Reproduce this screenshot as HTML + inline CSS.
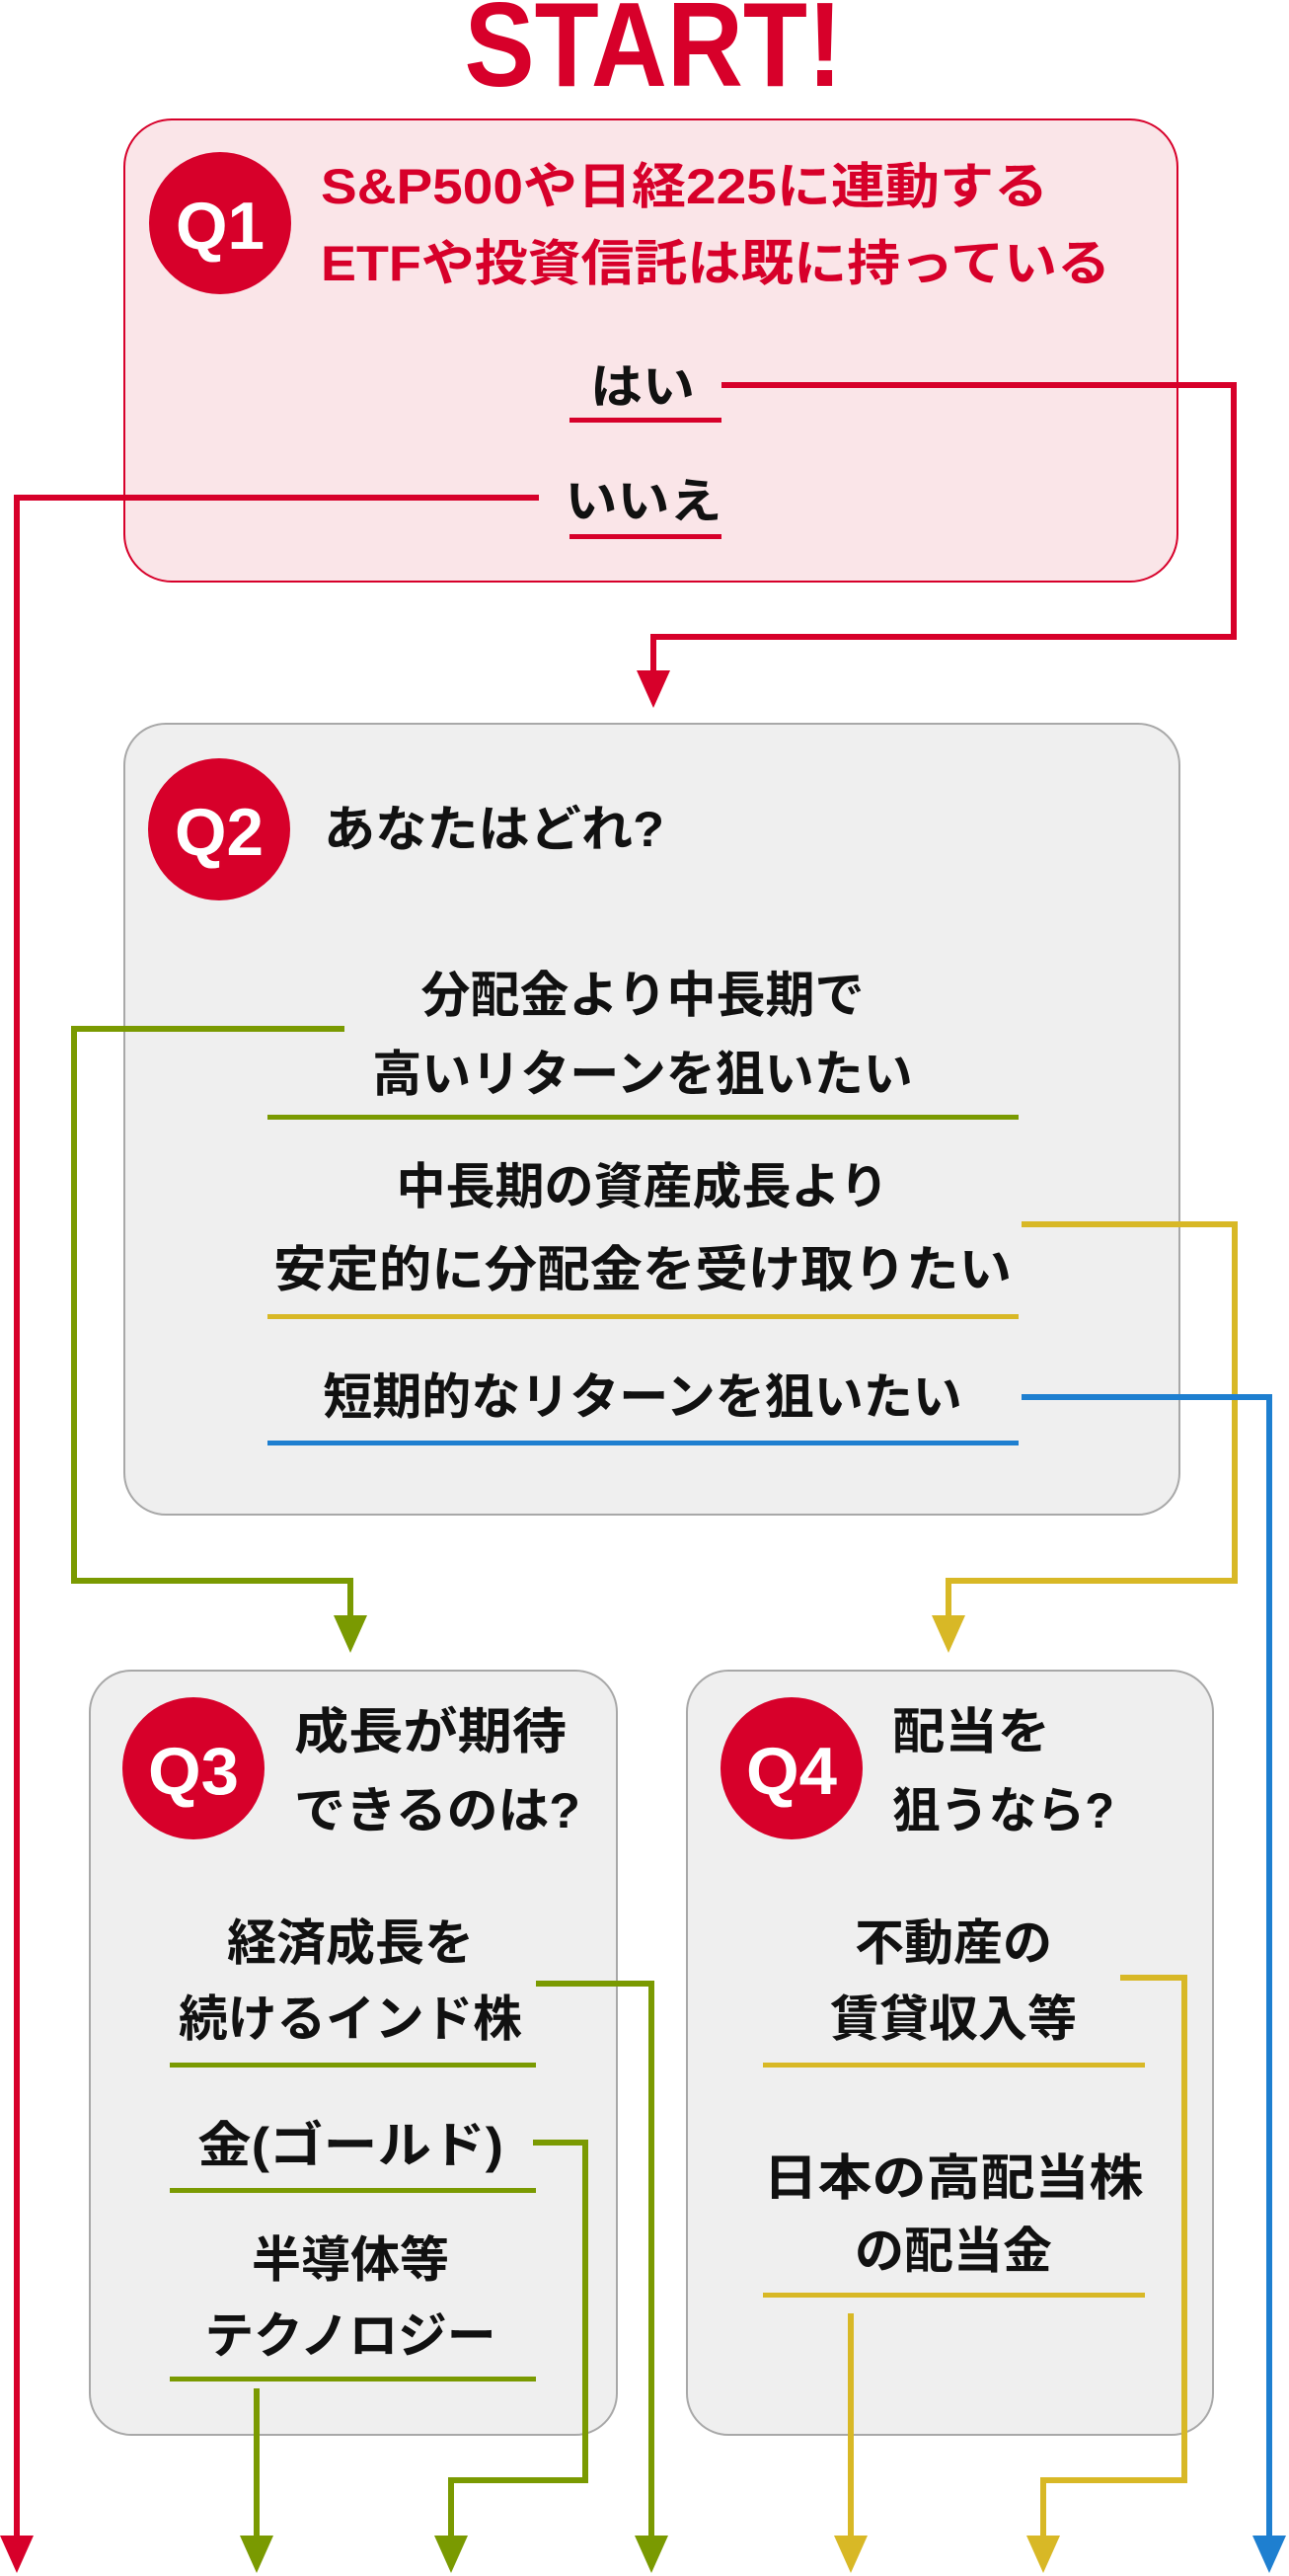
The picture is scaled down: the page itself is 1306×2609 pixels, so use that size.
<!DOCTYPE html>
<html><head><meta charset="utf-8"><style>
html,body{margin:0;padding:0;background:#fff;}
svg{display:block;}
text{font-family:"Liberation Sans","Noto Sans CJK JP",sans-serif;font-weight:700;}
</style></head><body>
<svg width="1306" height="2609" viewBox="0 0 1306 2609" xmlns="http://www.w3.org/2000/svg">
<defs>
<marker id="ar" markerWidth="10" markerHeight="10" refX="0" refY="0" viewBox="0 0 1 1"></marker>
</defs>
<!-- START -->
<text x="662" y="87" font-size="122" fill="#d7002a" text-anchor="middle" textLength="383" lengthAdjust="spacingAndGlyphs" style="font-family:'Liberation Sans',sans-serif">START!</text>

<!-- Q1 box -->
<rect x="126" y="121" width="1067" height="468" rx="48" fill="#fae5e8" stroke="#d7002a" stroke-width="2"/>
<circle cx="223" cy="226" r="72" fill="#d7002a"/>
<text x="223" y="252" font-size="68" fill="#fff" text-anchor="middle" textLength="90" lengthAdjust="spacingAndGlyphs" style="font-family:'Liberation Sans',sans-serif">Q1</text>
<text x="325" y="206" font-size="50" fill="#d7002a" textLength="737" lengthAdjust="spacingAndGlyphs">S&amp;P500や日経225に連動する</text>
<text x="325" y="284" font-size="50" fill="#d7002a" textLength="800" lengthAdjust="spacingAndGlyphs">ETFや投資信託は既に持っている</text>
<text x="651" y="408" font-size="48" fill="#111" text-anchor="middle" textLength="106" lengthAdjust="spacingAndGlyphs">はい</text>
<rect x="577" y="423" width="154" height="5" fill="#d7002a"/>
<text x="652" y="524" font-size="48" fill="#111" text-anchor="middle" textLength="159" lengthAdjust="spacingAndGlyphs">いいえ</text>
<rect x="577" y="541" width="154" height="5" fill="#d7002a"/>

<!-- red connectors -->
<polyline points="731,390 1250,390 1250,645 662,645 662,682" fill="none" stroke="#d7002a" stroke-width="6"/>
<polygon points="645,679 679,679 662,717" fill="#d7002a"/>
<polyline points="546,504 17,504 17,2570" fill="none" stroke="#d7002a" stroke-width="6"/>
<polygon points="0,2568 34,2568 17,2606" fill="#d7002a"/>

<!-- Q2 box -->
<rect x="126" y="733" width="1069" height="801" rx="42" fill="#efefef" stroke="#a8a8a8" stroke-width="2"/>
<circle cx="222" cy="840" r="72" fill="#d7002a"/>
<text x="222" y="866" font-size="68" fill="#fff" text-anchor="middle" textLength="90" lengthAdjust="spacingAndGlyphs" style="font-family:'Liberation Sans',sans-serif">Q2</text>
<text x="328" y="857" font-size="50" fill="#111" textLength="345" lengthAdjust="spacingAndGlyphs">あなたはどれ?</text>

<text x="651" y="1025" font-size="50" fill="#111" text-anchor="middle">分配金より中長期で</text>
<text x="651" y="1105" font-size="50" fill="#111" text-anchor="middle">高いリターンを狙いたい</text>
<rect x="271" y="1129" width="761" height="5" fill="#7a9a01"/>
<text x="651" y="1219" font-size="50" fill="#111" text-anchor="middle">中長期の資産成長より</text>
<text x="651" y="1303" font-size="50" fill="#111" text-anchor="middle" textLength="748" lengthAdjust="spacingAndGlyphs">安定的に分配金を受け取りたい</text>
<rect x="271" y="1331" width="761" height="5" fill="#d8b826"/>
<text x="651" y="1432" font-size="50" fill="#111" text-anchor="middle">短期的なリターンを狙いたい</text>
<rect x="271" y="1459" width="761" height="5" fill="#1e7fd0"/>

<!-- Q2 connectors -->
<polyline points="349,1042 75,1042 75,1601 355,1601 355,1640" fill="none" stroke="#7a9a01" stroke-width="6"/>
<polygon points="338,1636 372,1636 355,1674" fill="#7a9a01"/>
<polyline points="1035,1240 1251,1240 1251,1601 961,1601 961,1640" fill="none" stroke="#d8b826" stroke-width="6"/>
<polygon points="944,1636 978,1636 961,1674" fill="#d8b826"/>
<polyline points="1035,1415 1286,1415 1286,2570" fill="none" stroke="#1e7fd0" stroke-width="6"/>
<polygon points="1269,2568 1303,2568 1286,2606" fill="#1e7fd0"/>

<!-- Q3 box -->
<rect x="91" y="1692" width="534" height="774" rx="42" fill="#efefef" stroke="#a8a8a8" stroke-width="2"/>
<circle cx="196" cy="1791" r="72" fill="#d7002a"/>
<text x="196" y="1817" font-size="68" fill="#fff" text-anchor="middle" textLength="92" lengthAdjust="spacingAndGlyphs" style="font-family:'Liberation Sans',sans-serif">Q3</text>
<text x="298" y="1771" font-size="50" fill="#111" textLength="276" lengthAdjust="spacingAndGlyphs">成長が期待</text>
<text x="298" y="1851" font-size="50" fill="#111" textLength="290" lengthAdjust="spacingAndGlyphs">できるのは?</text>
<text x="355" y="1985" font-size="50" fill="#111" text-anchor="middle">経済成長を</text>
<text x="355" y="2062" font-size="50" fill="#111" text-anchor="middle" textLength="348" lengthAdjust="spacingAndGlyphs">続けるインド株</text>
<rect x="172" y="2089" width="371" height="5" fill="#7a9a01"/>
<text x="355" y="2190" font-size="50" fill="#111" text-anchor="middle" textLength="310" lengthAdjust="spacingAndGlyphs">金(ゴールド)</text>
<rect x="172" y="2216" width="371" height="5" fill="#7a9a01"/>
<text x="355" y="2306" font-size="50" fill="#111" text-anchor="middle">半導体等</text>
<text x="355" y="2383" font-size="50" fill="#111" text-anchor="middle" textLength="295" lengthAdjust="spacingAndGlyphs">テクノロジー</text>
<rect x="172" y="2407" width="371" height="5" fill="#7a9a01"/>

<polyline points="543,2009 660,2009 660,2570" fill="none" stroke="#7a9a01" stroke-width="6"/>
<polygon points="643,2568 677,2568 660,2606" fill="#7a9a01"/>
<polyline points="540,2170 593,2170 593,2512 457,2512 457,2570" fill="none" stroke="#7a9a01" stroke-width="6"/>
<polygon points="440,2568 474,2568 457,2606" fill="#7a9a01"/>
<polyline points="260,2419 260,2570" fill="none" stroke="#7a9a01" stroke-width="6"/>
<polygon points="243,2568 277,2568 260,2606" fill="#7a9a01"/>

<!-- Q4 box -->
<rect x="696" y="1692" width="533" height="774" rx="42" fill="#efefef" stroke="#a8a8a8" stroke-width="2"/>
<circle cx="802" cy="1791" r="72" fill="#d7002a"/>
<text x="802" y="1817" font-size="68" fill="#fff" text-anchor="middle" textLength="92" lengthAdjust="spacingAndGlyphs" style="font-family:'Liberation Sans',sans-serif">Q4</text>
<text x="904" y="1771" font-size="50" fill="#111" textLength="160" lengthAdjust="spacingAndGlyphs">配当を</text>
<text x="904" y="1851" font-size="50" fill="#111" textLength="225" lengthAdjust="spacingAndGlyphs">狙うなら?</text>
<text x="966" y="1985" font-size="50" fill="#111" text-anchor="middle">不動産の</text>
<text x="966" y="2062" font-size="50" fill="#111" text-anchor="middle">賃貸収入等</text>
<rect x="773" y="2089" width="387" height="5" fill="#d8b826"/>
<text x="966" y="2223" font-size="50" fill="#111" text-anchor="middle" textLength="385" lengthAdjust="spacingAndGlyphs">日本の高配当株</text>
<text x="966" y="2297" font-size="50" fill="#111" text-anchor="middle">の配当金</text>
<rect x="773" y="2322" width="387" height="5" fill="#d8b826"/>

<polyline points="1135,2003 1200,2003 1200,2512 1057,2512 1057,2570" fill="none" stroke="#d8b826" stroke-width="6"/>
<polygon points="1040,2568 1074,2568 1057,2606" fill="#d8b826"/>
<polyline points="862,2343 862,2570" fill="none" stroke="#d8b826" stroke-width="6"/>
<polygon points="845,2568 879,2568 862,2606" fill="#d8b826"/>
</svg>
</body></html>
